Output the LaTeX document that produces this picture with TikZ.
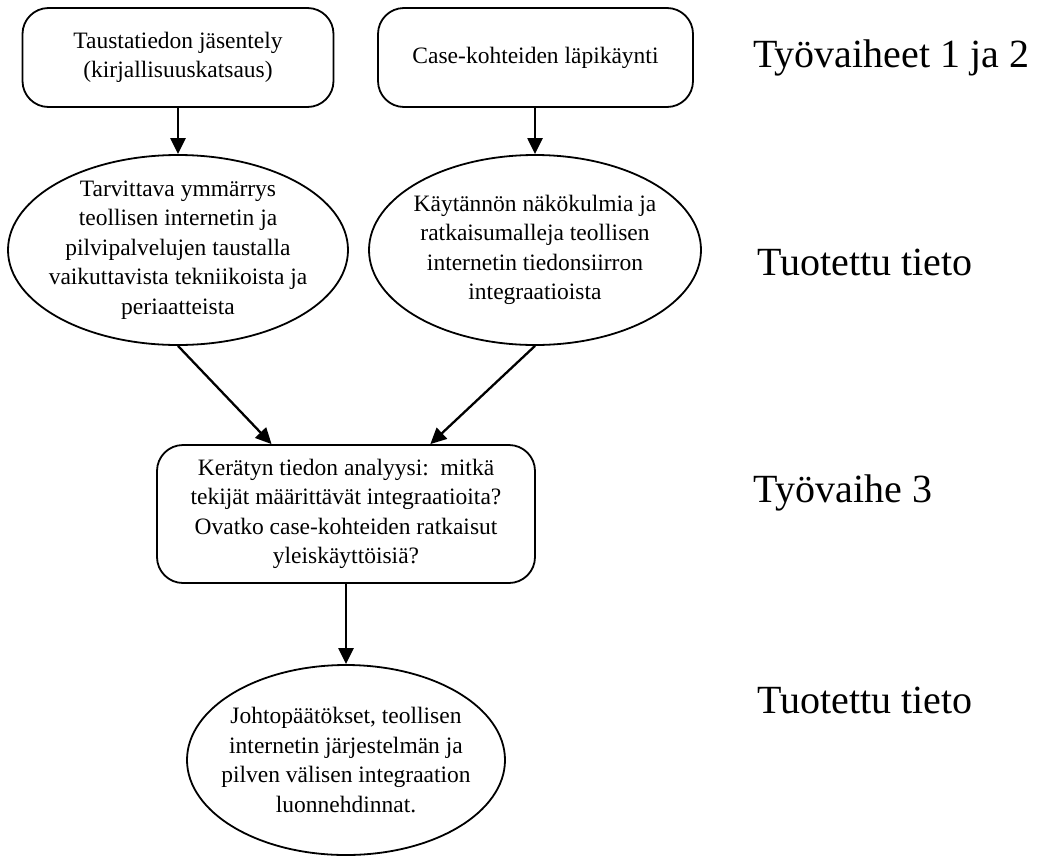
\documentclass[tikz,border=0pt]{standalone}
\usepackage{fontspec}
\setmainfont{Liberation Serif}
\usetikzlibrary{shapes.geometric,arrows.meta,calc}
\begin{document}
\begin{tikzpicture}[x=1pt,y=-1pt,
  txt/.style={font=\fontsize{23.5}{29.5}\selectfont, align=center, inner sep=0pt},
  roundbox/.style={txt, draw, line width=1.8pt, rounded corners=26pt},
  oval/.style={txt, draw, ellipse, line width=1.8pt, inner xsep=-40pt, inner ysep=-30pt},
  phase/.style={font=\fontsize{40}{44}\selectfont, inner sep=0pt},
  flow/.style={line width=2.3pt, -{Triangle[length=16pt,width=15pt]}}
]
\useasboundingbox (0,0) rectangle (1041,857);

% upper row: starting tasks
\node[roundbox, minimum width=311pt, minimum height=99pt] (b1) at (178,57.5)
  {Taustatiedon jäsentely\\(kirjallisuuskatsaus)};
\node[roundbox, minimum width=315pt, minimum height=99pt] (b2) at (535.5,57.5)
  {Case-kohteiden läpikäynti};

% produced knowledge
\node[oval, minimum width=340pt, minimum height=190pt] (e1) at (178,250)
  {Tarvittava ymmärrys\\teollisen internetin ja\\pilvipalvelujen taustalla\\vaikuttavista tekniikoista ja\\periaatteista};
\node[oval, minimum width=332pt, minimum height=190pt] (e2) at (535,250)
  {Käytännön näkökulmia ja\\ratkaisumalleja teollisen\\internetin tiedonsiirron\\integraatioista};

% analysis
\node[roundbox, minimum width=378pt, minimum height=138pt] (b3) at (346,514)
  {Kerätyn tiedon analyysi:\ \ mitkä\\tekijät määrittävät integraatioita?\\Ovatko case-kohteiden ratkaisut\\yleiskäyttöisiä?};

% conclusions
\node[oval, minimum width=318pt, minimum height=190pt] (e4) at (346,760)
  {Johtopäätökset, teollisen\\internetin järjestelmän ja\\pilven välisen integraation\\luonnehdinnat.};

% phase labels
\node[phase] (p1) at (891,58) {Työvaiheet 1 ja 2};
\node[phase] (p2) at (865,262) {Tuotettu tieto};
\node[phase] (p3) at (843,493) {Työvaihe 3};
\node[phase] (p4) at (865,700) {Tuotettu tieto};

% connectors
\coordinate (in1) at ($(b3.north west)!0.304!(b3.north east)$);
\coordinate (in2) at ($(b3.north west)!0.722!(b3.north east)$);
\draw[flow] (b1.south) -- (e1.north);
\draw[flow] (b2.south -| e2.north) -- (e2.north);
\draw[flow] (e1.south) -- (in1);
\draw[flow] (e2.south) -- (in2);
\draw[flow] (b3.south) -- (e4.north);
\end{tikzpicture}
\end{document}
